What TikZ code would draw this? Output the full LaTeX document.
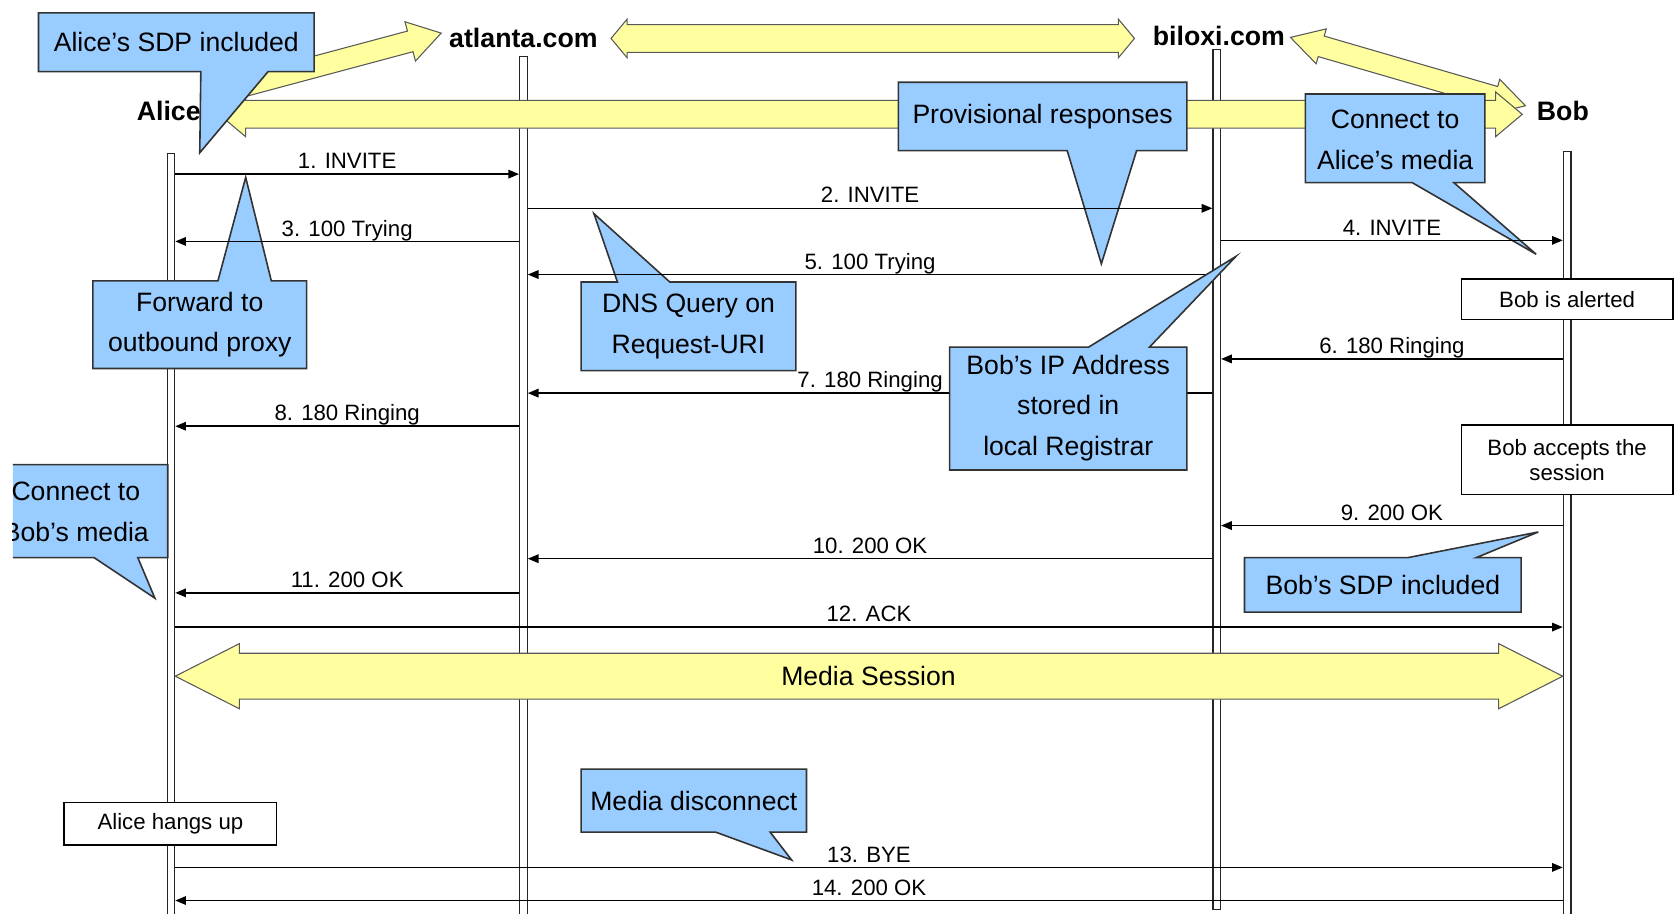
\documentclass[tikz,border=0pt]{standalone}
\usepackage{fontspec}
\setmainfont{Liberation Sans}
\usetikzlibrary{calc,arrows.meta}
\definecolor{callblue}{RGB}{153,204,255}
\definecolor{mediayellow}{RGB}{255,255,160}

% message between two lifelines at height #3
\newcommand\sipmsg[4]{\draw[msg] (#1 |- 0,#3) -- node[msglabel] {#4} (#2 |- 0,#3);}

% double-headed block arrow: ends #1,#2; shaft half width #3, head half width #4, head length #5
\newcommand\yblockdbl[5]{%
  \coordinate (ya1) at ($(#1)!#5!(#2)$);
  \coordinate (yb1) at ($(#2)!#5!(#1)$);
  \path[yarrow] (#1)
    -- ($(ya1)!#4!90:(#2)$) -- ($(ya1)!#3!90:(#2)$)
    -- ($(yb1)!#3!-90:(#1)$) -- ($(yb1)!#4!-90:(#1)$)
    -- (#2)
    -- ($(yb1)!#4!90:(#1)$) -- ($(yb1)!#3!90:(#1)$)
    -- ($(ya1)!#3!-90:(#2)$) -- ($(ya1)!#4!-90:(#2)$)
    -- cycle;}

% single-headed block arrow: tail #1, tip #2
\newcommand\yblockone[5]{%
  \coordinate (yb1) at ($(#2)!#5!(#1)$);
  \path[yarrow] ($(#1)!#3!-90:(#2)$)
    -- ($(yb1)!#3!90:(#1)$) -- ($(yb1)!#4!90:(#1)$)
    -- (#2)
    -- ($(yb1)!#4!-90:(#1)$) -- ($(yb1)!#3!-90:(#1)$)
    -- ($(#1)!#3!90:(#2)$) -- cycle;}

\begin{document}
\begin{tikzpicture}[x=0.5pt, y=-0.5pt,
  lifeline/.style={draw=black!85, fill=white, line width=0.6pt, minimum width=3.5pt, inner sep=0pt, anchor=north},
  hdr/.style={font=\fontsize{12.5}{15}\selectfont\bfseries, inner sep=0pt},
  msg/.style={-{Triangle[length=5pt,width=4pt]}, line width=0.7pt, black},
  msglabel/.style={midway, anchor=base, yshift=2.5pt, inner sep=0pt, font=\fontsize{10.4}{12}\selectfont},
  yarrow/.style={fill=mediayellow, draw=black!65, line width=0.5pt, line join=miter},
  callout/.style={fill=callblue, draw=black!80, line width=0.75pt, line join=miter},
  ctext/.style={font=\fontsize{12.45}{19}\selectfont, align=center, inner sep=0pt},
  notebox/.style={draw=black, fill=white, line width=0.65pt, align=center, inner sep=0pt, font=\fontsize{10.4}{12}\selectfont}
]
\useasboundingbox (0,0) rectangle (1568,855);
\fill[white] (0,0) rectangle (1568,855);

% lifelines
\node[lifeline, minimum height=358.5pt] (al) at (160,143) {};
\node[lifeline, minimum height=404pt]   (at) at (490,52) {};
\node[lifeline, minimum height=402.5pt] (bi) at (1139,46) {};
\node[lifeline, minimum height=359.5pt] (bo) at (1467,141) {};

% participant names
\node[hdr] (alicename) at (158,104) {Alice};
\node[hdr] (atlname)   at (490,36)  {atlanta.com};
\node[hdr] (bilname)   at (1141,34) {biloxi.com};
\node[hdr] (bobname)   at (1463,104) {Bob};

% signalling paths
\coordinate (p1) at (572,36);   \coordinate (p2) at (1062,36);
\coordinate (q1) at (215,84);   \coordinate (q2) at (413,31);
\coordinate (r1) at (1208,35);  \coordinate (r2) at (1428,99);
\coordinate (s1) at (205,107);  \coordinate (s2) at (1425,107);
\yblockdbl{p1}{p2}{6.5pt}{9pt}{7.5pt}
\yblockone{q1}{q2}{5pt}{9.5pt}{15pt}
\yblockdbl{r1}{r2}{5pt}{8.5pt}{15pt}
\yblockdbl{s1}{s2}{6.5pt}{10.5pt}{12.5pt}

% media path
\coordinate (m1) at (al.east |- 0,633);
\coordinate (m2) at (bo.west |- 0,633);
\yblockdbl{m1}{m2}{10.75pt}{15.25pt}{30pt}
\node[ctext] (media) at (813,633) {Media Session};

% callouts
\path[callout] (36,12) -- (294,12) -- (294,67) -- (251,67) -- (187,143) -- (188,67) -- (36,67) -- cycle;
\node[ctext] (c1) at (165,39) {Alice’s SDP included};

\path[callout] (87,263) -- (204,263) -- (230,166) -- (254,263) -- (287,263) -- (287,345) -- (87,345) -- cycle;
\node[ctext] (c2) at (187,304) {Forward to\\outbound proxy};

\path[callout] (544,264) -- (578,264) -- (556,200) -- (627,264) -- (745,264) -- (745,347) -- (544,347) -- cycle;
\node[ctext] (c3) at (644.5,305.5) {DNS Query on\\Request-URI};

\path[callout] (841,77) -- (1111,77) -- (1111,141) -- (1064,141) -- (1031,247) -- (999,141) -- (841,141) -- cycle;
\node[ctext] (c4) at (976,109) {Provisional responses};

\path[callout] (1222,88) -- (1390,88) -- (1390,171) -- (1361,171) -- (1438,238) -- (1322,171) -- (1222,171) -- cycle;
\node[ctext] (c5) at (1306,131) {Connect to\\Alice’s media};

\begin{scope}
  \clip (12,0) rectangle (1568,855);
  \path[callout] (-15,435) -- (157,435) -- (157,522) -- (129,522) -- (145,560) -- (88,522) -- (-15,522) -- cycle;
  \node[ctext] (c7) at (71,479) {Connect to\\Bob’s media};
\end{scope}

\path[callout] (1165,522) -- (1318,522) -- (1440,498) -- (1382,522) -- (1424,522) -- (1424,573) -- (1165,573) -- cycle;
\node[ctext] (c8) at (1294.5,548) {Bob’s SDP included};

\path[callout] (544,720) -- (755,720) -- (755,779) -- (721,779) -- (741,805) -- (670,779) -- (544,779) -- cycle;
\node[ctext] (c9) at (649.5,750) {Media disconnect};

% messages
\sipmsg{al.east}{at.west}{163}{1. INVITE}
\sipmsg{at.east}{bi.west}{195}{2. INVITE}
\sipmsg{at.west}{al.east}{226}{3. 100 Trying}
\sipmsg{bi.east}{bo.west}{225}{4. INVITE}
\sipmsg{bi.west}{at.east}{257}{5. 100 Trying}
\sipmsg{bo.west}{bi.east}{336}{6. 180 Ringing}
\sipmsg{bi.west}{at.east}{368}{7. 180 Ringing}
\sipmsg{at.west}{al.east}{399}{8. 180 Ringing}
\sipmsg{bo.west}{bi.east}{492}{9. 200 OK}
\sipmsg{bi.west}{at.east}{523}{10. 200 OK}
\sipmsg{at.west}{al.east}{555}{11. 200 OK}
\sipmsg{al.east}{bo.west}{587}{12. ACK}
\sipmsg{al.east}{bo.west}{812}{13. BYE}
\sipmsg{bo.west}{al.east}{843}{14. 200 OK}

% registrar callout
\path[callout] (889,325) -- (1019,325) -- (1157,240) -- (1076,325) -- (1111,325) -- (1111,440) -- (889,440) -- cycle;
\node[ctext] (c6) at (1000,382) {Bob’s IP Address\\stored in\\local Registrar};

% user actions
\node[notebox, minimum width=99pt, minimum height=19pt] (alerted) at (1467,280) {Bob is alerted};
\node[notebox, minimum width=99pt, minimum height=32.5pt, font=\fontsize{10.4}{12}\selectfont] (accepts) at (1467,430.5) {Bob accepts the\\session};
\node[notebox, minimum width=99.5pt, minimum height=20pt] (hangs) at (159.5,771) {Alice hangs up};
\end{tikzpicture}
\end{document}
